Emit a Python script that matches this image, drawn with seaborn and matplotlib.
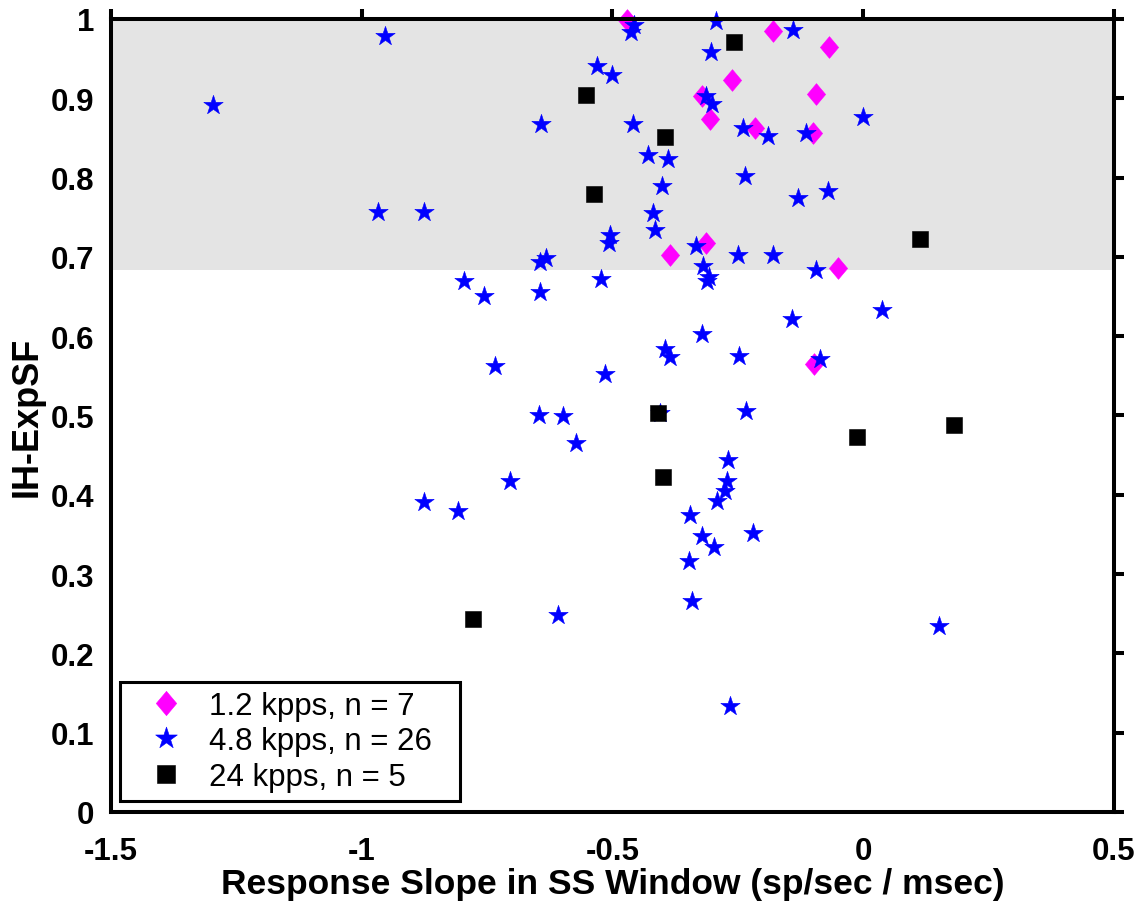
import matplotlib
matplotlib.use("Agg")
import matplotlib.pyplot as plt
from matplotlib.path import Path
import seaborn as sns
import pandas as pd

# --- data -------------------------------------------------------------
x_12kpps = [-0.471, -0.179, -0.068, -0.262, -0.094, -0.322, -0.306,
            -0.215, -0.101, -0.313, -0.386, -0.050, -0.099]
y_12kpps = [0.999, 0.985, 0.965, 0.923, 0.906, 0.903, 0.874,
            0.862, 0.856, 0.717, 0.702, 0.686, 0.565]

x_48kpps = [-0.953, -1.296, -0.968, -0.876, -0.457, -0.463, -0.293, -0.140,
            -0.304, -0.531, -0.500, -0.313, -0.302, -0.642, -0.459, -0.239,
            -0.189, -0.115, 0.000, -0.430, -0.390, -0.235, -0.401, -0.130,
            -0.070, -0.419, -0.415, -0.504, -0.506, -0.334, -0.644, -0.632,
            -0.250, -0.179, -0.320, -0.094, -0.312, -0.308, -0.523, -0.645,
            -0.756, -0.797, -0.142, 0.038, -0.322, -0.395, -0.385, -0.247,
            -0.087, -0.734, -0.515, -0.405, -0.233, -0.647, -0.599, -0.572,
            -0.269, -0.705, -0.271, -0.275, -0.292, -0.346, -0.322, -0.297,
            -0.219, -0.348, -0.875, -0.809, -0.341, -0.265, 0.151, -0.609]
y_48kpps = [0.978, 0.892, 0.756, 0.756, 0.992, 0.984, 0.998, 0.986,
            0.958, 0.941, 0.929, 0.903, 0.893, 0.867, 0.868, 0.862,
            0.852, 0.856, 0.877, 0.828, 0.824, 0.802, 0.789, 0.774,
            0.783, 0.755, 0.734, 0.728, 0.718, 0.714, 0.693, 0.698,
            0.702, 0.702, 0.689, 0.684, 0.669, 0.674, 0.672, 0.656,
            0.651, 0.670, 0.622, 0.633, 0.603, 0.584, 0.574, 0.575,
            0.571, 0.562, 0.552, 0.503, 0.506, 0.501, 0.499, 0.465,
            0.444, 0.417, 0.417, 0.405, 0.392, 0.375, 0.348, 0.334,
            0.352, 0.317, 0.391, 0.379, 0.266, 0.134, 0.234, 0.248]

x_24kpps = [-0.257, -0.553, -0.396, -0.536, 0.114, -0.410, -0.400, -0.013, 0.181, -0.779]
y_24kpps = [0.971, 0.904, 0.851, 0.779, 0.722, 0.503, 0.422, 0.473, 0.488, 0.243]

labels = ["1.2 kpps, n = 7", "4.8 kpps, n = 26", "24 kpps, n = 5"]

x_ticks = [-1.5, -1.0, -0.5, 0.0, 0.5]
x_ticklabels = ["-1.5", "-1", "-0.5", "0", "0.5"]
y_ticks = [0.0, 0.1, 0.2, 0.3, 0.4, 0.5, 0.6, 0.7, 0.8, 0.9, 1.0]
y_ticklabels = ["0", "0.1", "0.2", "0.3", "0.4", "0.5", "0.6", "0.7", "0.8", "0.9", "1"]

band_low, band_high = 0.683, 1.0

# --- style --------------------------------------------------------------
sns.set_theme(style="white")
plt.rcParams["font.family"] = ["Liberation Sans", "DejaVu Sans"]
plt.rcParams["axes.unicode_minus"] = False
plt.rcParams["text.color"] = "black"

fig = plt.figure(figsize=(11.44, 9.04), dpi=100)
ax = fig.add_axes([0.097, 0.1007, 0.8768, 0.8772])

ax.axhspan(band_low, band_high, color="#e4e4e4", zorder=0, lw=0)

diamond = Path([(0, 1), (0.84, 0), (0, -1), (-0.84, 0), (0, 1)],
               [Path.MOVETO, Path.LINETO, Path.LINETO, Path.LINETO, Path.CLOSEPOLY])

groups = [
    (x_12kpps, y_12kpps, labels[0], diamond, "#ff00ff", 245),
    (x_48kpps, y_48kpps, labels[1], "*", "#0000ff", 215),
    (x_24kpps, y_24kpps, labels[2], "s", "#000000", 121),
]
for gx, gy, lab, mk, col, size in groups:
    df = pd.DataFrame({"slope": gx, "expsf": gy})
    sns.scatterplot(data=df, x="slope", y="expsf", ax=ax, marker=mk, color=col,
                    s=size, edgecolor=col, linewidth=0.4, label=lab,
                    clip_on=False, zorder=3, legend=False)

ax.set_xlim(-1.5, 0.5)
ax.set_ylim(0, 1)
ax.set_xticks(x_ticks)
ax.set_xticklabels(x_ticklabels)
ax.set_yticks(y_ticks)
ax.set_yticklabels(y_ticklabels)

for sp in ax.spines.values():
    sp.set_visible(True)
    sp.set_linewidth(2.9)
    sp.set_color("black")
    sp.set_zorder(4)

ax.tick_params(axis="both", which="major", direction="out", length=7, width=2.9,
               color="black", top=True, right=True, labeltop=False, labelright=False,
               labelsize=22.5, labelcolor="black")
ax.tick_params(axis="x", pad=10)
ax.tick_params(axis="y", pad=5)
for t in ax.get_xticklabels() + ax.get_yticklabels():
    t.set_fontweight("bold")

ax.set_xlabel("Response Slope in SS Window (sp/sec / msec)", fontsize=25.5,
              fontweight="bold", color="black", labelpad=1)
ax.set_ylabel("IH-ExpSF", fontsize=26, fontweight="bold", color="black", labelpad=4)

handles, _ = ax.get_legend_handles_labels()
leg = ax.legend(handles, labels, loc="lower left",
                bbox_to_anchor=(0.0095, 0.0139, 0.338, 0.15), mode="expand",
                borderaxespad=0, borderpad=0.3, handlelength=2.3, handletextpad=0.24,
                labelspacing=0.17, fontsize=22.5, frameon=True, fancybox=False,
                framealpha=1, edgecolor="black", scatteryoffsets=[0.5],
                markerscale=1.12, labelcolor="black")
leg.get_frame().set_linewidth(2.2)
leg.set_zorder(5)

fig.savefig("out.png", dpi=100)
